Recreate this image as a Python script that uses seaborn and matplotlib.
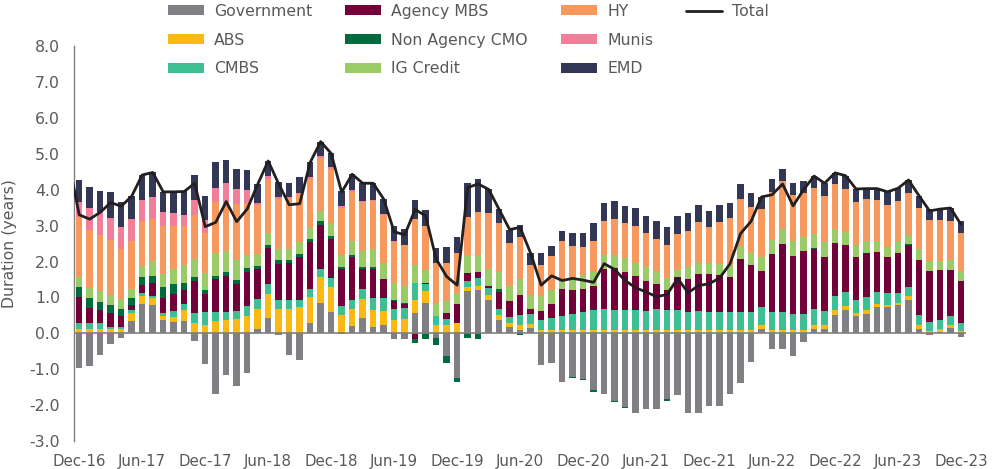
import numpy as np
import pandas as pd
import matplotlib
matplotlib.use("Agg")
import matplotlib.pyplot as plt
from matplotlib.patches import Patch
from matplotlib.lines import Line2D
import seaborn as sns

# monthly, Dec-16 .. Dec-23 (85 months)
months = pd.date_range("2016-12-01", "2023-12-01", freq="MS").strftime("%b-%y").tolist()

government = [-0.97, -0.90, -0.60, -0.30, -0.12, 0.35, 0.83, 0.80, 0.36, 0.32, 0.35, -0.22, -0.85,
              -1.68, -1.17, -1.48, -1.10, 0.11, 0.44, -0.05, -0.60, -0.73, 0.28, 0.85, 0.60,
              -0.02, 0.19, 0.44, 0.17, 0.22, -0.17, -0.16, 0.57, 0.85, -0.12, -0.63, -1.25,
              1.19, 1.22, 0.93, 0.37, 0.17, 0.08, 0.14, -0.87, -0.82, -1.35, -1.21, -1.26,
              -1.58, -1.68, -1.89, -2.05, -2.21, -2.12, -2.10, -1.84, -1.73, -2.21, -2.23, -2.03,
              -2.02, -1.70, -1.38, -0.80, 0.12, -0.44, -0.43, -0.64, -0.25, 0.13, 0.11, 0.52,
              0.66, 0.47, 0.55, 0.73, 0.72, 0.78, 0.94, 0.13, -0.05, 0.04, 0.15, -0.11]
abs_ = [0.12, 0.13, 0.12, 0.12, 0.12, 0.21, 0.21, 0.19, 0.11, 0.14, 0.29, 0.30, 0.22,
        0.33, 0.37, 0.40, 0.48, 0.57, 0.65, 0.67, 0.69, 0.72, 0.74, 0.72, 0.69,
        0.52, 0.50, 0.52, 0.49, 0.41, 0.38, 0.40, 0.37, 0.34, 0.23, 0.23, 0.28,
        0.09, 0.11, 0.14, 0.13, 0.13, 0.14, 0.13, 0.08, 0.08, 0.08, 0.08, 0.08,
        0.08, 0.08, 0.08, 0.08, 0.08, 0.08, 0.08, 0.08, 0.08, 0.08, 0.08, 0.08,
        0.08, 0.08, 0.08, 0.08, 0.12, 0.10, 0.10, 0.08, 0.08, 0.10, 0.11, 0.12,
        0.11, 0.09, 0.09, 0.09, 0.07, 0.07, 0.10, 0.11, 0.07, 0.08, 0.09, 0.06]
cmbs = [0.18, 0.17, 0.16, 0.06, 0.06, 0.08, 0.07, 0.06, 0.09, 0.16, 0.17, 0.27, 0.38,
        0.27, 0.23, 0.21, 0.29, 0.28, 0.27, 0.26, 0.25, 0.22, 0.22, 0.23, 0.26,
        0.23, 0.25, 0.28, 0.31, 0.36, 0.30, 0.31, 0.46, 0.19, 0.24, 0.17, 0.02,
        0.19, 0.21, 0.19, 0.19, 0.16, 0.30, 0.28, 0.29, 0.36, 0.40, 0.46, 0.52,
        0.57, 0.59, 0.57, 0.56, 0.56, 0.54, 0.59, 0.56, 0.56, 0.52, 0.54, 0.52,
        0.52, 0.52, 0.50, 0.50, 0.49, 0.50, 0.48, 0.47, 0.46, 0.45, 0.41, 0.41,
        0.39, 0.37, 0.36, 0.33, 0.33, 0.27, 0.26, 0.26, 0.25, 0.26, 0.23, 0.23]
agency_mbs = [0.72, 0.40, 0.37, 0.38, 0.31, 0.16, 0.24, 0.35, 0.42, 0.47, 0.39, 0.90, 0.49,
              0.92, 0.99, 0.76, 0.94, 0.82, 1.01, 1.00, 1.01, 1.18, 1.30, 1.22, 1.08,
              1.03, 1.19, 0.56, 0.83, 0.51, 0.22, 0.12, -0.16, 0.03, 0.00, 0.16, 0.51,
              0.20, 0.17, 0.07, 0.45, 0.43, 0.56, 0.12, 0.26, 0.38, 0.76, 0.67, 0.64,
              0.68, 1.13, 1.17, 1.07, 0.97, 0.85, 0.70, 0.56, 0.92, 0.92, 1.02, 1.05,
              1.02, 0.98, 1.50, 1.31, 1.00, 1.62, 1.90, 1.61, 1.74, 1.67, 1.50, 1.46,
              1.31, 1.20, 1.23, 1.11, 1.00, 1.12, 1.16, 1.55, 1.41, 1.37, 1.30, 1.18]
non_agency_cmo = [0.27, 0.28, 0.23, 0.24, 0.19, 0.17, 0.22, 0.21, 0.31, 0.29, 0.19, 0.11, 0.11,
                  0.08, 0.12, 0.12, 0.12, 0.10, 0.10, 0.10, 0.09, 0.09, 0.08, 0.12, 0.09,
                  0.06, 0.05, 0.05, 0.06, 0.02, 0.02, 0.02, -0.10, -0.16, -0.20, -0.19, -0.10,
                  -0.13, -0.15, 0.00, 0.10, 0.00, -0.06, 0.00, -0.02, 0.00, -0.02, -0.04, -0.04,
                  -0.06, -0.02, -0.01, -0.02, 0.00, 0.00, -0.02, -0.04, 0.00, 0.00, 0.00, 0.00,
                  0.00, 0.00, 0.00, 0.00, 0.00, 0.00, 0.00, 0.00, 0.00, 0.03, 0.00, 0.00,
                  0.00, 0.00, 0.00, 0.00, 0.00, 0.00, 0.03, 0.00, 0.00, 0.00, 0.00, 0.00]
ig_credit = [0.27, 0.28, 0.29, 0.27, 0.27, 0.26, 0.30, 0.40, 0.35, 0.41, 0.51, 0.49, 0.47,
             0.63, 0.58, 0.54, 0.34, 0.33, 0.31, 0.31, 0.30, 0.32, 0.31, 0.28, 0.34,
             0.33, 0.39, 0.45, 0.49, 0.44, 0.48, 0.47, 0.51, 0.35, 0.37, 0.34, 0.32,
             0.50, 0.46, 0.47, 0.47, 0.44, 0.44, 0.40, 0.40, 0.40, 0.27, 0.30, 0.38,
             0.39, 0.37, 0.35, 0.38, 0.36, 0.39, 0.36, 0.35, 0.21, 0.34, 0.32, 0.31,
             0.31, 0.30, 0.35, 0.35, 0.39, 0.39, 0.42, 0.40, 0.39, 0.38, 0.41, 0.39,
             0.36, 0.34, 0.33, 0.31, 0.29, 0.29, 0.26, 0.30, 0.28, 0.27, 0.26, 0.26]
hy = [1.67, 1.61, 1.57, 1.53, 1.41, 1.33, 1.26, 1.18, 1.34, 1.20, 1.09, 1.22, 1.12,
      1.44, 1.38, 1.57, 1.45, 1.37, 1.53, 1.40, 1.42, 1.34, 1.36, 1.47, 1.51,
      1.33, 1.37, 1.36, 1.33, 1.34, 1.14, 1.13, 1.26, 1.23, 1.12, 1.06, 1.11,
      1.08, 1.20, 1.55, 1.36, 1.18, 1.17, 0.84, 0.88, 0.94, 1.06, 0.93, 0.78,
      0.86, 0.97, 1.02, 0.97, 1.02, 0.93, 0.91, 0.90, 0.99, 1.00, 1.13, 1.01,
      1.18, 1.34, 1.30, 1.28, 1.33, 1.33, 1.33, 1.29, 1.24, 1.30, 1.29, 1.25,
      1.20, 1.19, 1.17, 1.15, 1.16, 1.15, 1.15, 1.14, 1.15, 1.14, 1.11, 1.05]
munis = [0.44, 0.61, 0.65, 0.61, 0.59, 0.61, 0.57, 0.60, 0.40, 0.36, 0.30, 0.43, 0.36,
         0.38, 0.52, 0.41, 0.37, 0.06, 0.06, 0.06, 0.05, 0.05, 0.05, 0.05, 0.05,
         0.05, 0.05, 0.03, 0.03, 0.02, 0.02, 0.02] + [0.0] * 53
emd = [0.60, 0.60, 0.58, 0.73, 0.71, 0.65, 0.71, 0.69, 0.56, 0.59, 0.66, 0.68, 0.67,
       0.72, 0.65, 0.58, 0.57, 0.51, 0.43, 0.41, 0.37, 0.42, 0.42, 0.40, 0.39,
       0.40, 0.44, 0.49, 0.47, 0.42, 0.44, 0.43, 0.54, 0.44, 0.43, 0.44, 0.45,
       0.94, 0.94, 0.66, 0.38, 0.38, 0.32, 0.32, 0.32, 0.26, 0.27, 0.34, 0.38,
       0.48, 0.50, 0.49, 0.48, 0.49, 0.48, 0.50, 0.51, 0.50, 0.48, 0.47, 0.44,
       0.45, 0.42, 0.43, 0.40, 0.35, 0.36, 0.36, 0.34, 0.34, 0.32, 0.35, 0.32,
       0.36, 0.36, 0.30, 0.31, 0.37, 0.36, 0.37, 0.34, 0.30, 0.30, 0.35, 0.36]
total_nov16 = 4.78  # previous month, only the line segment entering from the left

series_names = ["Government", "ABS", "CMBS", "Agency MBS", "Non Agency CMO",
                "IG Credit", "HY", "Munis", "EMD"]
series_colors = ["#808084", "#FDB913", "#3DBE93", "#74003A", "#006B3C",
                 "#99CC66", "#F7995C", "#F27E9A", "#333756"]
tick_labels = ["Dec-16", "Jun-17", "Dec-17", "Jun-18", "Dec-18", "Jun-19", "Dec-19", "Jun-20",
               "Dec-20", "Jun-21", "Dec-21", "Jun-22", "Dec-22", "Jun-23", "Dec-23"]

df = pd.DataFrame({"month": months, "Government": government, "ABS": abs_, "CMBS": cmbs,
                   "Agency MBS": agency_mbs, "Non Agency CMO": non_agency_cmo,
                   "IG Credit": ig_credit, "HY": hy, "Munis": munis, "EMD": emd})
df["Total"] = df[series_names].sum(axis=1)

sns.set_style("white")
plt.rcParams["font.family"] = ["DejaVu Sans"]
text_col = "#595959"

fig = plt.figure(figsize=(9.97, 4.69), dpi=100)
ax = fig.add_axes([0.0742, 0.0597, 0.895, 0.842])

x = np.arange(len(df))
pos_base = np.zeros(len(df))
neg_base = np.zeros(len(df))
for name, col in zip(series_names, series_colors):
    v = df[name].to_numpy()
    p = np.where(v > 0, v, 0)
    n = np.where(v < 0, v, 0)
    ax.bar(x, p, bottom=pos_base, width=0.62, color=col, linewidth=0, zorder=2)
    ax.bar(x, n, bottom=neg_base, width=0.62, color=col, linewidth=0, zorder=2)
    pos_base += p
    neg_base += n

line_df = pd.DataFrame({"x": np.arange(-1, len(df)),
                        "total": [total_nov16] + df["Total"].tolist()})
sns.lineplot(data=line_df, x="x", y="total", ax=ax, color="#231F20", lw=2.0, zorder=4)

ax.axhline(0, color="#7f7f7f", lw=1.2, zorder=3)
ax.set_xlim(-0.5, 84.5)
ax.set_ylim(-3, 8)
ax.set_yticks(np.arange(-3, 9, 1))
ax.set_yticklabels([f"{v:.1f}" for v in np.arange(-3, 9, 1)])
ax.set_xticks(np.arange(0, 85, 6))
ax.set_xticklabels(tick_labels)
ax.tick_params(axis="y", length=0, pad=10, labelsize=11.3, labelcolor=text_col)
ax.tick_params(axis="x", length=0, pad=9, labelsize=10.8, labelcolor=text_col)
ax.set_xlabel("")
ax.set_ylabel("Duration (years)", fontsize=11.3, color=text_col, labelpad=9)
for s in ["top", "right", "bottom"]:
    ax.spines[s].set_visible(False)
ax.spines["left"].set_color("#7f7f7f")
ax.spines["left"].set_linewidth(1.0)

handles = [Patch(facecolor=c, edgecolor="none", label=nm) for nm, c in zip(series_names, series_colors)]
handles.append(Line2D([], [], color="#231F20", lw=2.0, label="Total"))
handles += [Patch(facecolor="none", edgecolor="none", label="")] * 2
leg = fig.legend(handles=handles, ncol=4, loc="upper left", bbox_to_anchor=(0.1685, 0.992),
                 frameon=False, fontsize=11.3, handlelength=2.3, handleheight=0.55,
                 handletextpad=0.64, columnspacing=2.1, labelspacing=0.88, borderpad=0,
                 borderaxespad=0)
for t in leg.get_texts():
    t.set_color(text_col)

fig.savefig("out.png", dpi=100)
